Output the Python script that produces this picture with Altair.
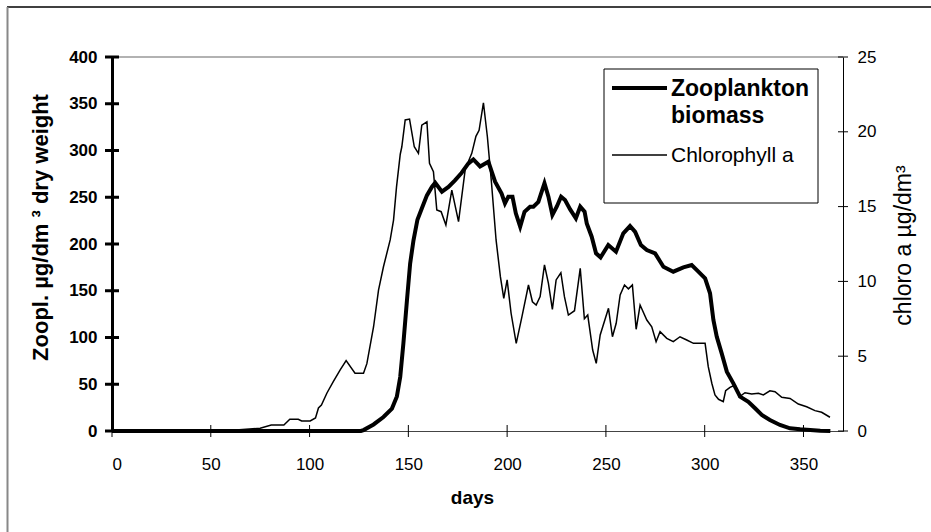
import altair as alt
import pandas as pd

# ---------------- data ----------------
zoo_days = [0, 126, 127.3, 132.4, 137.4, 141.7, 144.2, 145.9, 147.5, 149.3, 150.9, 152.6,
            154.6, 156.8, 159.4, 161.9, 163.6, 167, 170.3, 173.6, 176.9, 180.3, 182.9,
            186.3, 190.5, 193.9, 197.2, 198.9, 200.6, 202.7, 204.4, 206.6, 208.8, 211.6,
            213.3, 215.8, 218.9, 220.9, 222.9, 225.1, 227.3, 229.3, 231.9, 234.8, 237,
            239.2, 240.3, 242.8, 245, 247.3, 251.2, 255.1, 258.8, 262.2, 264.8, 267.7,
            270.7, 274.9, 279.1, 284.1, 289.2, 293.4, 296.8, 300.2, 302.7, 304.4, 306.1,
            308.6, 311.2, 314.5, 317.9, 322.1, 325.5, 328.9, 333, 338.1, 343.2, 348.3,
            353.4, 358.5, 363.6]
zoo_vals = [0, 0, 1, 7, 15, 24, 37, 58, 94, 140, 179, 204,
            226, 238, 252, 261, 265.5, 256, 261, 268, 276, 286, 290.5,
            283, 288, 266.6, 254, 243.5, 250.6, 250.6, 232.8, 218.5, 234.5, 239.9,
            239.9, 245, 265, 250.6, 231, 239.9, 250.6, 247, 237, 227.5, 240,
            234.5, 222, 207.8, 190, 185.7, 199, 191.8, 211.4, 219.2, 213, 199,
            193.6, 190, 175.7, 170.4, 175, 177.5, 170.4, 163.3, 147.3, 118.7, 100.9,
            83, 63.5, 51, 36.7, 31.3, 24.3, 17.1, 11.8, 6.4, 2.9, 1.8,
            1.0, 0.3, 0]

chl_days = [0, 60, 61, 75, 80.6, 87, 90, 94.3, 96, 100.3, 103, 104.5, 106, 108.8, 112,
            115.5, 118.5, 123, 127.3, 129, 132.4, 134.9, 137.4, 140.8, 142.5, 144,
            145.9, 146.7, 148.4, 150.6, 153, 155.1, 156.8, 159.4, 160.7, 162.7, 164.4,
            166.6, 169, 172, 175.4, 178.8, 182.1, 184.2, 185.8, 188, 190, 192.1, 194.4,
            196.6, 198.3, 200, 202, 204.6, 207.5, 210.8, 212.8, 214.7, 216.7, 218.9,
            220.9, 222.9, 224.8, 227.2, 229, 231, 234.1, 237, 239.1, 240.8, 243.3,
            245.1, 247.1, 251.3, 253.3, 255.2, 257.2, 259.4, 261.4, 263.4, 265.3,
            267.3, 270.7, 273.2, 275.4, 277.4, 280.8, 284.1, 287.5, 290.9, 294.3,
            300.2, 301.8, 303.6, 305.2, 307, 309.4, 310.6, 312.8, 315.4, 317.5, 320.4,
            323.8, 327.2, 329.7, 333, 335.6, 339, 343.2, 347.4, 351.6, 355.8, 359.2,
            363.4]
chl_vals = [0, 0, 0.05, 0.18, 0.4, 0.4, 0.78, 0.78, 0.67, 0.67, 0.87, 1.54, 1.74, 2.54, 3.3,
            4.08, 4.7, 3.86, 3.86, 4.5, 6.97, 9.42, 10.98, 12.77, 14.1, 16.3,
            18.5, 19.0, 20.79, 20.85, 19.0, 18.56, 20.45, 20.67, 17.9, 17.33, 14.77,
            14.66, 13.77, 16.1, 14.0, 17.5, 18.56, 19.7, 20.1, 21.94, 19.67, 16.56, 12.77,
            10.3, 8.87, 10.1, 7.87, 5.86, 7.64, 9.76, 8.64, 8.42, 8.98, 11.1,
            9.87, 8.13, 10.1, 10.58, 8.98, 7.75, 8.04, 10.87, 7.5, 7.75, 5.41,
            4.52, 6.42, 8.2, 6.3, 7.2, 9.09, 9.76, 9.5, 9.76, 6.8,
            8.42, 7.42, 6.97, 5.97, 6.64, 6.19, 5.97, 6.3, 6.08, 5.86,
            5.86, 4.3, 3.19, 2.41, 2.12, 1.96, 2.69, 2.92, 3.07, 2.29, 2.56,
            2.47, 2.52, 2.41, 2.69, 2.63, 2.25, 2.18, 1.8, 1.62, 1.36, 1.25,
            0.92]

x_ticks = [0, 50, 100, 150, 200, 250, 300, 350]
left_ticks = [0, 50, 100, 150, 200, 250, 300, 350, 400]
right_ticks = [0, 5, 10, 15, 20, 25]
legend_labels = ["Zooplankton", "biomass", "Chlorophyll a"]
x_title = "days"
left_title = "Zoopl.  µg/dm ³ dry weight"
right_title = "chloro a  µg/dm³"

# ---------------- layout ----------------
W, H = 731, 374
FONT = "Liberation Sans"

zoo_df = pd.DataFrame({"day": zoo_days, "zoo": zoo_vals})
chl_df = pd.DataFrame({"day": chl_days, "chl": chl_vals})
one = alt.Data(values=[{"k": 1}])

xs = alt.Scale(domain=[0, 370], nice=False, zero=False)
ls = alt.Scale(domain=[0, 400], nice=False)
rs = alt.Scale(domain=[0, 25], nice=False)

x_axis = alt.Axis(values=x_ticks, ticks=False, grid=False, domainColor="#444",
                  domainWidth=1, labelFont=FONT, labelFontSize=17, labelColor="black",
                  labelPadding=25, format="d", title=x_title, titleFont=FONT,
                  titleFontSize=19, titleFontWeight="bold", titleColor="black",
                  titleX=360, titleY=66, titleBaseline="middle", titleAlign="center")

left_axis = alt.Axis(orient="left", values=left_ticks, ticks=False, grid=False,
                     domainColor="black", domainWidth=3, labelFont=FONT,
                     labelFontSize=17, labelFontWeight="bold", labelColor="black",
                     labelPadding=15, format="d", title=left_title, titleFont=FONT,
                     titleFontSize=22, titleFontWeight="bold", titleColor="black",
                     titleAngle=270, titleX=-72, titleY=170, titleBaseline="middle",
                     titleAlign="center")

right_axis = alt.Axis(orient="right", values=right_ticks, ticks=False, grid=False,
                      domainColor="black", domainWidth=1, labelFont=FONT,
                      labelFontSize=17, labelColor="black", labelPadding=14,
                      format="d", title=right_title, titleFont=FONT, titleFontSize=23,
                      titleFontWeight="normal", titleColor="black", titleAngle=270,
                      titleX=60, titleY=188, titleBaseline="middle", titleAlign="center")

chl_line = alt.Chart(chl_df).mark_line(color="black", strokeWidth=1.5).encode(
    x=alt.X("day:Q", scale=xs, axis=x_axis),
    y=alt.Y("chl:Q", scale=rs, axis=right_axis),
)
zoo_line = alt.Chart(zoo_df).mark_line(color="black", strokeWidth=4).encode(
    x=alt.X("day:Q", scale=xs, axis=x_axis),
    y=alt.Y("zoo:Q", scale=ls, axis=left_axis),
)

# crossing tick marks
lt_df = pd.DataFrame({"v": left_ticks})
rt_df = pd.DataFrame({"v": right_ticks})
xt_df = pd.DataFrame({"day": x_ticks})
left_tk = alt.Chart(lt_df).mark_rule(color="black", strokeWidth=3).encode(
    y=alt.Y("v:Q", scale=ls, axis=None), x=alt.value(-7), x2=alt.value(7))
right_tk = alt.Chart(rt_df).mark_rule(color="black", strokeWidth=1).encode(
    y=alt.Y("v:Q", scale=rs, axis=None), x=alt.value(W - 5), x2=alt.value(W + 5))
x_tk = alt.Chart(xt_df).mark_rule(color="black", strokeWidth=1).encode(
    x=alt.X("day:Q", scale=xs, axis=x_axis), y=alt.value(H - 6), y2=alt.value(H + 6))

# plot-area top border and outer chart frame
top_border = alt.Chart(one).mark_rule(color="#999999", strokeWidth=1.5).encode(
    x=alt.value(0), x2=alt.value(W), y=alt.value(0))
frame_top = alt.Chart(one).mark_rule(color="black", strokeWidth=1.5).encode(
    x=alt.value(-105), x2=alt.value(820), y=alt.value(-50))
frame_left = alt.Chart(one).mark_rule(color="#888888", strokeWidth=2).encode(
    x=alt.value(-104.5), y=alt.value(-50), y2=alt.value(476))

# legend
leg_box = alt.Chart(one).mark_rect(fill="white", stroke="black", strokeWidth=1).encode(
    x=alt.value(492), x2=alt.value(706), y=alt.value(12), y2=alt.value(146))
leg_l1 = alt.Chart(one).mark_rule(color="black", strokeWidth=4).encode(
    x=alt.value(500), x2=alt.value(555), y=alt.value(31))
leg_l2 = alt.Chart(one).mark_rule(color="black", strokeWidth=1.5).encode(
    x=alt.value(500), x2=alt.value(555), y=alt.value(98))
leg_t1 = alt.Chart(one).mark_text(font=FONT, fontSize=23, fontWeight="bold", align="left",
                                  baseline="alphabetic", color="black").encode(
    x=alt.value(559), y=alt.value(39), text=alt.value(legend_labels[0]))
leg_t2 = alt.Chart(one).mark_text(font=FONT, fontSize=23, fontWeight="bold", align="left",
                                  baseline="alphabetic", color="black").encode(
    x=alt.value(559), y=alt.value(66), text=alt.value(legend_labels[1]))
leg_t3 = alt.Chart(one).mark_text(font=FONT, fontSize=21, align="left",
                                  baseline="alphabetic", color="black").encode(
    x=alt.value(559), y=alt.value(105), text=alt.value(legend_labels[2]))

chart = alt.layer(
    chl_line, zoo_line, top_border, left_tk, right_tk, x_tk,
    frame_top, frame_left, leg_box, leg_l1, leg_l2, leg_t1, leg_t2, leg_t3,
).resolve_scale(y="independent").properties(
    width=W, height=H,
    autosize=alt.AutoSizeParams(type="none"),
    padding={"left": 112, "top": 57, "right": 88, "bottom": 101},
    background="white",
).configure_view(stroke=None)

chart.save("out.html", embed_options={"renderer": "svg", "actions": False})
